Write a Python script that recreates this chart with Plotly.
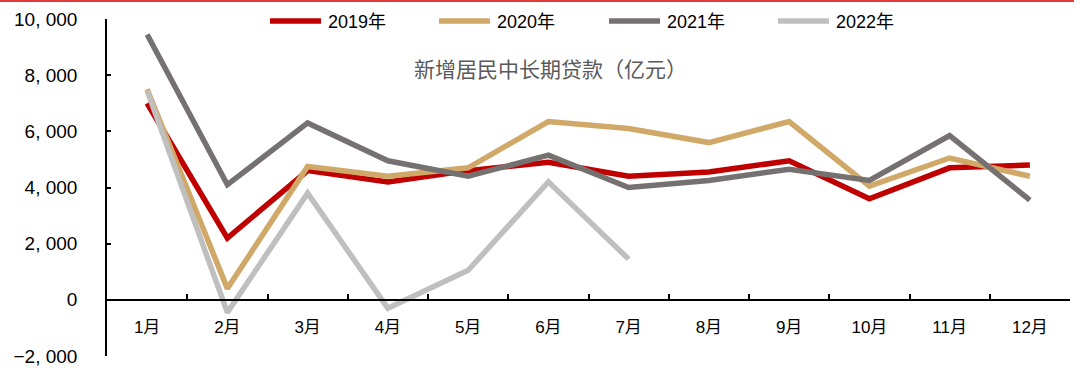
import plotly.graph_objects as go

months = ["1月", "2月", "3月", "4月", "5月", "6月", "7月", "8月", "9月", "10月", "11月", "12月"]
s2019 = [7000, 2200, 4600, 4200, 4600, 4900, 4400, 4550, 4950, 3600, 4700, 4800]
s2020 = [7500, 400, 4750, 4400, 4700, 6350, 6100, 5600, 6350, 4050, 5050, 4400]
s2021 = [9450, 4100, 6300, 4950, 4400, 5150, 4000, 4250, 4650, 4250, 5850, 3550]
s2022 = [7450, -450, 3800, -300, 1050, 4200, 1450]
series_names = ["2019年", "2020年", "2021年", "2022年"]
colors = ["#C00000", "#D0A868", "#767171", "#BFBFBF"]
ytick_vals = [-2000, 0, 2000, 4000, 6000, 8000, 10000]
ytick_text = ["−2, 000", "0", "2, 000", "4, 000", "6, 000", "8, 000", "10, 000"]
title_text = "新增居民中长期贷款（亿元）"

FONT = "Liberation Sans, Arial, Noto Sans CJK SC, sans-serif"

fig = go.Figure()
for name, vals, c in zip(series_names, [s2019, s2020, s2021, s2022], colors):
    fig.add_trace(go.Scatter(
        x=months[:len(vals)], y=vals, mode="lines", name=name,
        line=dict(color=c, width=5.5), showlegend=False,
    ))

W, H = 1074, 371
ml, mr, mt, mb = 107, 4, 19, 13
pw, ph = W - ml - mr, H - mt - mb

def px(x):
    return (x - ml) / pw

def py(y):
    return (H - mb - y) / ph

shapes = []
annotations = []
# manual legend
leg_x = [268, 437, 607, 776]
for xs, name, c in zip(leg_x, series_names, colors):
    shapes.append(dict(type="line", xref="paper", yref="paper",
                       x0=px(xs + 2), x1=px(xs + 53), y0=py(21), y1=py(21),
                       line=dict(color=c, width=5.5)))
    annotations.append(dict(xref="paper", yref="paper", x=px(xs + 58), y=py(22),
                            text=name, showarrow=False, xanchor="left", yanchor="middle",
                            font=dict(family=FONT, size=18, color="#000000")))
# chart title inside plot
annotations.append(dict(xref="paper", yref="paper", x=px(550), y=py(70),
                        text=title_text, showarrow=False, xanchor="center", yanchor="middle",
                        font=dict(family=FONT, size=21, color="#595959")))
# red top border
shapes.append(dict(type="line", xref="paper", yref="paper",
                   x0=px(0), x1=px(W), y0=py(0.8), y1=py(0.8),
                   line=dict(color="#E03A3A", width=2)))

fig.update_layout(
    width=W, height=H,
    margin=dict(l=ml, r=mr, t=mt, b=mb, pad=0),
    paper_bgcolor="white", plot_bgcolor="white",
    font=dict(family=FONT, size=18, color="#000000"),
    shapes=shapes, annotations=annotations,
    hovermode=False,
    xaxis=dict(
        type="category", range=[-0.5, 11.5], anchor="free", position=2000 / 12000,
        showline=True, linecolor="#000000", linewidth=1.5,
        ticks="inside", tickson="boundaries", ticklen=5, tickwidth=1.5, tickcolor="#000000",
        showgrid=False, zeroline=False, ticklabelstandoff=12,
        tickfont=dict(family=FONT, size=17, color="#000000"),
    ),
    yaxis=dict(
        range=[-2000, 10000], tickvals=ytick_vals, ticktext=ytick_text,
        showline=True, linecolor="#000000", linewidth=1.5,
        ticks="inside", ticklen=4, tickwidth=1.5, tickcolor="#000000",
        showgrid=False, zeroline=False, ticklabelstandoff=24,
        tickfont=dict(family=FONT, size=19, color="#000000"),
    ),
)

fig.write_html("out.html", config={"displayModeBar": False},
               post_script="document.body.style.margin='0px';document.body.style.overflow='hidden';")
